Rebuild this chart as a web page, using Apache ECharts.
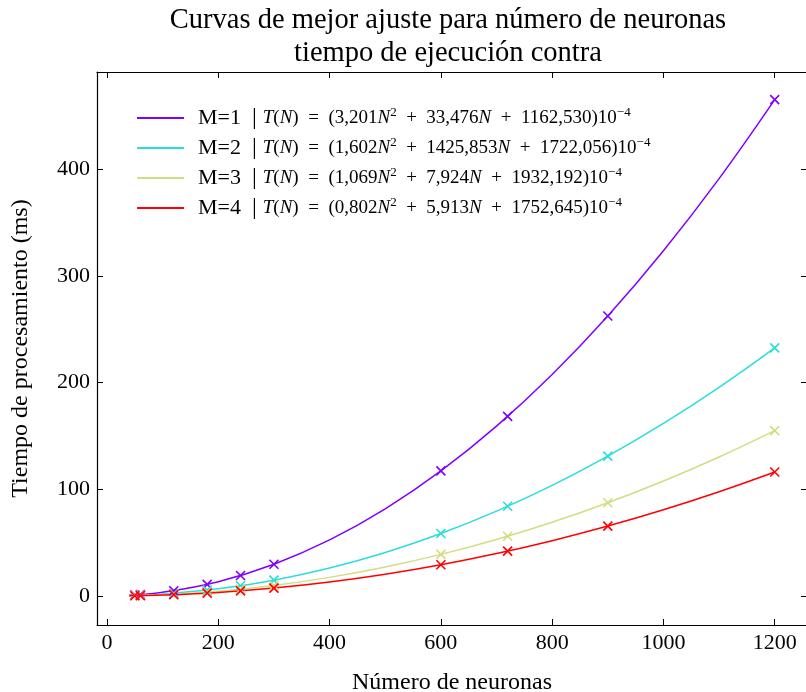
<!DOCTYPE html>
<html>
<head>
<meta charset="utf-8">
<script src="https://cdn.jsdelivr.net/npm/echarts@6/dist/echarts.min.js"></script>
<style>html,body{margin:0;padding:0;background:#fff;overflow:hidden}#c{width:812px;height:692px}</style>
</head>
<body>
<div id="c"></div>
<script>
// ---- data ----
const seriesNames = ['M=1', 'M=2', 'M=3', 'M=4'];
const colors = ['#8000ff', '#2adcdc', '#d4dc80', '#ff0000'];
const coefA = ['3,201', '1,602', '1,069', '0,802'];
const coefB = ['33,476', '1425,853', '7,924', '5,913'];
const coefC = ['1162,530', '1722,056', '1932,192', '1752,645'];

// measured points (x markers)
const markerN = [50, 60, 120, 180, 240, 300, 600, 720, 900, 1200];
const markerM1 = [1.08, 1.47, 5.13, 11.09, 19.36, 29.93, 117.36, 168.47, 262.41, 465.08];
const markerM2 = [0.64, 0.83, 2.65, 5.62, 9.74, 15.02, 58.70, 84.25, 131.22, 232.57];
const markerM3 = [0.50, 0.63, 1.83, 3.80, 6.54, 10.05, 39.15, 56.18, 87.50, 155.08];
const markerM4 = [0.41, 0.50, 1.40, 2.88, 4.94, 7.57, 29.40, 42.18, 65.67, 116.37];

// best-fit curves, values
const curveN = [40, 100, 200, 300, 400, 500, 600, 700, 800, 900, 1000, 1100, 1200];
const curveM1 = [0.76, 3.65, 13.59, 29.93, 52.67, 81.82, 117.36, 159.31, 207.66, 262.41, 323.56, 391.12, 465.08];
const curveM2 = [0.49, 1.92, 6.87, 15.02, 26.37, 40.94, 58.70, 79.67, 103.84, 131.22, 161.80, 195.58, 232.57];
const curveM3 = [0.40, 1.34, 4.63, 10.05, 17.61, 27.31, 39.15, 53.13, 69.24, 87.50, 107.89, 130.41, 155.08];
const curveM4 = [0.33, 1.04, 3.50, 7.57, 13.24, 20.52, 29.40, 39.89, 51.98, 65.67, 80.97, 97.87, 116.37];

const xTicks = [0, 200, 400, 600, 800, 1000, 1200];
const yTicks = [0, 100, 200, 300, 400];

const titleText = 'Curvas de mejor ajuste para número de neuronas\ntiempo de ejecución contra';
const xName = 'Número de neuronas';
const yName = 'Tiempo de procesamiento (ms)';

// ---- chart ----
const FONT = '"Liberation Serif", "DejaVu Serif", serif';
const markers = [markerM1, markerM2, markerM3, markerM4];
const curves = [curveM1, curveM2, curveM3, curveM4];
const zip = (xs, ys) => xs.map((x, i) => [x, ys[i]]);

const series = [];
seriesNames.forEach((n, k) => {
  series.push({
    name: n, type: 'line', data: zip(curveN, curves[k]), smooth: 0.4,
    showSymbol: false, symbol: 'none', lineStyle: { color: colors[k], width: 1.5 },
    itemStyle: { color: colors[k] }, z: 2, animation: false,
    xAxisIndex: 0, yAxisIndex: 0
  });
});
seriesNames.forEach((n, k) => {
  series.push({
    name: n + ' pts', type: 'scatter', data: zip(markerN, markers[k]),
    symbol: 'path://M0,0L10,10M10,0L0,10', symbolSize: 9,
    itemStyle: { color: 'none', borderColor: colors[k], borderWidth: 1.6, opacity: 1 },
    z: 3, animation: false, xAxisIndex: 0, yAxisIndex: 0
  });
});

const rich = {
  m: { fontFamily: FONT, fontSize: 22, color: '#000', lineHeight: 24, padding: [0, 0, 0, 9] },
  bar: { fontFamily: FONT, fontSize: 24, color: '#000', lineHeight: 24, padding: [0, 6, 0, 11] },
  i: { fontFamily: FONT, fontSize: 19, fontStyle: 'italic', color: '#000', lineHeight: 24 },
  r: { fontFamily: FONT, fontSize: 19, color: '#000', lineHeight: 24 },
  sup: { fontFamily: FONT, fontSize: 13, color: '#000', lineHeight: 14, verticalAlign: 'top' }
};

const SP = '\u2002';
function legendFormatter(name) {
  const k = seriesNames.indexOf(name);
  return '{m|' + name + '}{bar||}' +
    '{i|T}{r|(}{i|N}{r|)' + SP + '=' + SP + '(' + coefA[k] + '}{i|N}{sup|2}{r|' + SP + '+' + SP + coefB[k] +
    '}{i|N}{r|' + SP + '+' + SP + coefC[k] + ')10}{sup|−4}';
}

const xLbl = v => (xTicks.indexOf(v) >= 0 ? String(v) : '');
const yLbl = v => (yTicks.indexOf(v) >= 0 ? String(v) : '');

const axisCommon = {
  axisLine: { show: true, onZero: false, lineStyle: { color: '#000', width: 1.2 } },
  axisTick: { show: true, inside: true, length: 6, lineStyle: { color: '#000', width: 1 } },
  splitLine: { show: false },
  minorTick: { show: false }
};

const option = {
  animation: false,
  backgroundColor: '#fff',
  title: {
    text: titleText, left: 443, top: -1, textAlign: 'center',
    textStyle: { fontFamily: FONT, fontSize: 28.5, fontWeight: 'normal', color: '#000', lineHeight: 33 }
  },
  grid: { left: 97, top: 72, width: 710, height: 553, containLabel: false, outerBoundsMode: 'none' },
  legend: {
    data: seriesNames, orient: 'vertical', left: 132, top: 101,
    icon: 'rect', itemWidth: 47, itemHeight: 2, itemGap: 6,
    formatter: legendFormatter,
    textStyle: { rich: rich, fontFamily: FONT, color: '#000' },
    selectedMode: false
  },
  xAxis: [
    Object.assign({}, axisCommon, {
      type: 'value', position: 'bottom', min: -18, max: 1258, splitNumber: 6,
      minInterval: 200, maxInterval: 200,
      name: xName, nameLocation: 'middle', nameGap: 46,
      nameTextStyle: { fontFamily: FONT, fontSize: 24, color: '#000' },
      axisLabel: { formatter: xLbl, margin: 7, fontFamily: FONT, fontSize: 22, color: '#000' }
    }),
    Object.assign({}, axisCommon, {
      type: 'value', position: 'top', min: -18, max: 1258, splitNumber: 6,
      minInterval: 200, maxInterval: 200, axisLabel: { show: false }
    })
  ],
  yAxis: [
    Object.assign({}, axisCommon, {
      type: 'value', position: 'left', min: -27, max: 491, splitNumber: 5,
      minInterval: 100, maxInterval: 100,
      name: yName, nameLocation: 'middle', nameGap: 64, nameRotate: 90,
      nameTextStyle: { fontFamily: FONT, fontSize: 24, color: '#000' },
      axisLabel: { formatter: yLbl, margin: 7, fontFamily: FONT, fontSize: 22, color: '#000' }
    }),
    Object.assign({}, axisCommon, {
      type: 'value', position: 'right', min: -27, max: 491, splitNumber: 5,
      minInterval: 100, maxInterval: 100, axisLabel: { show: false }
    })
  ],
  series: series
};

const chart = echarts.init(document.getElementById('c'), null, { renderer: 'canvas' });
chart.setOption(option);
</script>
</body>
</html>
